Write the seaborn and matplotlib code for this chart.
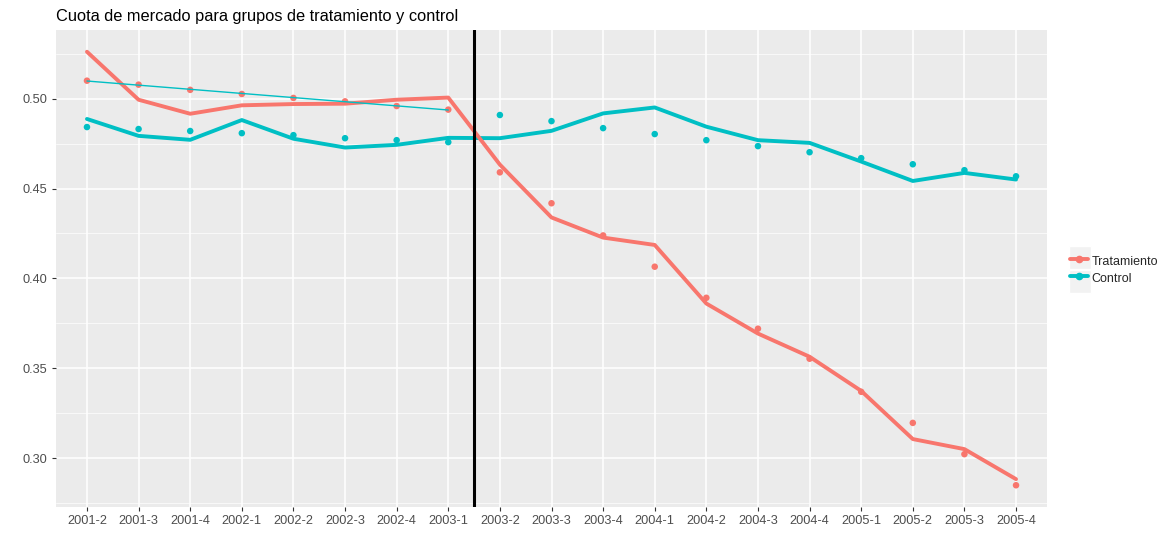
import matplotlib
matplotlib.use("Agg")
import matplotlib.pyplot as plt
import seaborn as sns
import numpy as np
import pandas as pd
from matplotlib.ticker import MultipleLocator, FormatStrFormatter
from matplotlib.lines import Line2D
from matplotlib.patches import Rectangle

# --- data ---
periods = ["2001-2", "2001-3", "2001-4", "2002-1", "2002-2", "2002-3", "2002-4",
           "2003-1", "2003-2", "2003-3", "2003-4", "2004-1", "2004-2", "2004-3",
           "2004-4", "2005-1", "2005-2", "2005-3", "2005-4"]

# observed points
trat_points = [0.510, 0.5078, 0.5049, 0.5026, 0.5004, 0.4985, 0.4959, 0.4939,
               0.4590, 0.4418, 0.4239, 0.4065, 0.3892, 0.3720, 0.3553, 0.3369,
               0.3196, 0.3022, 0.2849]
ctrl_points = [0.4842, 0.4831, 0.4820, 0.4808, 0.4797, 0.4780, 0.4769, 0.4758,
               0.4909, 0.4875, 0.4836, 0.4803, 0.4769, 0.4736, 0.4702, 0.4669,
               0.4635, 0.4602, 0.4568]

# thick (fitted) lines
trat_line = [0.5261, 0.4994, 0.4916, 0.4963, 0.4970, 0.4972, 0.4994, 0.5006,
             0.4633, 0.4339, 0.4227, 0.4186, 0.3860, 0.3693, 0.3564, 0.3374,
             0.3106, 0.3050, 0.2883]
ctrl_line = [0.4887, 0.4793, 0.4771, 0.4881, 0.4777, 0.4728, 0.4743, 0.4782,
             0.4780, 0.4821, 0.4918, 0.4951, 0.4844, 0.4769, 0.4754, 0.4650,
             0.4542, 0.4587, 0.4550]

groups = ["Tratamiento", "Control"]
n_pre = 8          # periods before the intervention
cut_position = 7.5 # between 2003-1 and 2003-2

pal = {"Tratamiento": "#F8766D", "Control": "#00BFC4"}

idx = np.arange(len(periods))
points_df = pd.DataFrame({
    "x": np.concatenate([idx, idx]),
    "valor": trat_points + ctrl_points,
    "grupo": ["Tratamiento"] * len(periods) + ["Control"] * len(periods),
})
lines_df = pd.DataFrame({
    "x": np.concatenate([idx, idx]),
    "valor": trat_line + ctrl_line,
    "grupo": ["Tratamiento"] * len(periods) + ["Control"] * len(periods),
})
pre_df = points_df[(points_df["grupo"] == "Tratamiento") & (points_df["x"] < n_pre)]

# --- ggplot-like theme ---
sns.set_theme(style="darkgrid", rc={
    "axes.facecolor": "#EBEBEB",
    "grid.color": "white",
    "axes.edgecolor": "none",
    "xtick.color": "#333333",
    "ytick.color": "#333333",
    "xtick.labelcolor": "#4D4D4D",
    "ytick.labelcolor": "#4D4D4D",
    "xtick.bottom": True,
    "ytick.left": True,
    "xtick.major.size": 3,
    "ytick.major.size": 3,
    "xtick.major.width": 0.8,
    "ytick.major.width": 0.8,
    "xtick.major.pad": 3,
    "ytick.major.pad": 3,
})
plt.rcParams["font.family"] = ["Liberation Sans", "DejaVu Sans"]

W, H = 1172, 553
fig = plt.figure(figsize=(W / 100, H / 100), dpi=100)
ax = fig.add_axes([56 / W, (H - 507) / H, (1047 - 56) / W, (507 - 30) / H])

sns.scatterplot(data=points_df, x="x", y="valor", hue="grupo", palette=pal,
                s=22, linewidth=0, legend=False, ax=ax, zorder=3)
sns.lineplot(data=lines_df, x="x", y="valor", hue="grupo",
             hue_order=["Control", "Tratamiento"], palette=pal,
             linewidth=2.8, legend=False, ax=ax, zorder=4)
# linear pre-trend through the treatment points
sns.regplot(data=pre_df, x="x", y="valor", scatter=False, ci=None, truncate=True,
            color=pal["Control"], line_kws={"linewidth": 1.0, "zorder": 5}, ax=ax)
ax.axvline(cut_position, color="black", linewidth=2.2, zorder=6)

ax.set_xlim(-0.6, len(periods) - 1 + 0.6)
ax.set_ylim(0.2728, 0.5382)
ax.set_xticks(idx)
ax.set_xticklabels(periods, fontsize=9.2)
ax.yaxis.set_major_locator(MultipleLocator(0.05))
ax.yaxis.set_major_formatter(FormatStrFormatter("%.2f"))
ax.yaxis.set_minor_locator(MultipleLocator(0.025))
ax.tick_params(axis="y", labelsize=9.2)
ax.tick_params(axis="y", which="minor", length=0)
ax.grid(which="major", color="white", linewidth=1.1)
ax.grid(which="minor", axis="y", color="white", linewidth=0.5)
ax.set_xlabel("")
ax.set_ylabel("")
for s in ax.spines.values():
    s.set_visible(False)

fig.text(56 / W, 1 - 16 / H, "Cuota de mercado para grupos de tratamiento y control",
         fontsize=11.8, color="black", va="center", ha="left")

# legend key backgrounds (ggplot style grey boxes)
key_x0, key_w, key_h, key_top = 1069, 22, 23, 246.5
for i in range(len(groups)):
    y_top = key_top + i * key_h
    fig.add_artist(Rectangle((key_x0 / W, 1 - (y_top + key_h) / H), key_w / W, key_h / H,
                             transform=fig.transFigure, facecolor="#F2F2F2",
                             edgecolor="white", linewidth=1.0, zorder=1))

handles = [Line2D([], [], color=pal[g], linewidth=2.8, marker="o", markersize=4.5)
           for g in groups]
fig.legend(handles, groups, loc="center left",
           bbox_to_anchor=(1070 / W, 1 - (key_top + key_h) / H),
           frameon=False, fontsize=9, handlelength=1.4, handleheight=1.75,
           labelspacing=0.0, handletextpad=0.35, borderaxespad=0, borderpad=0)

fig.savefig("out.png", dpi=100)
